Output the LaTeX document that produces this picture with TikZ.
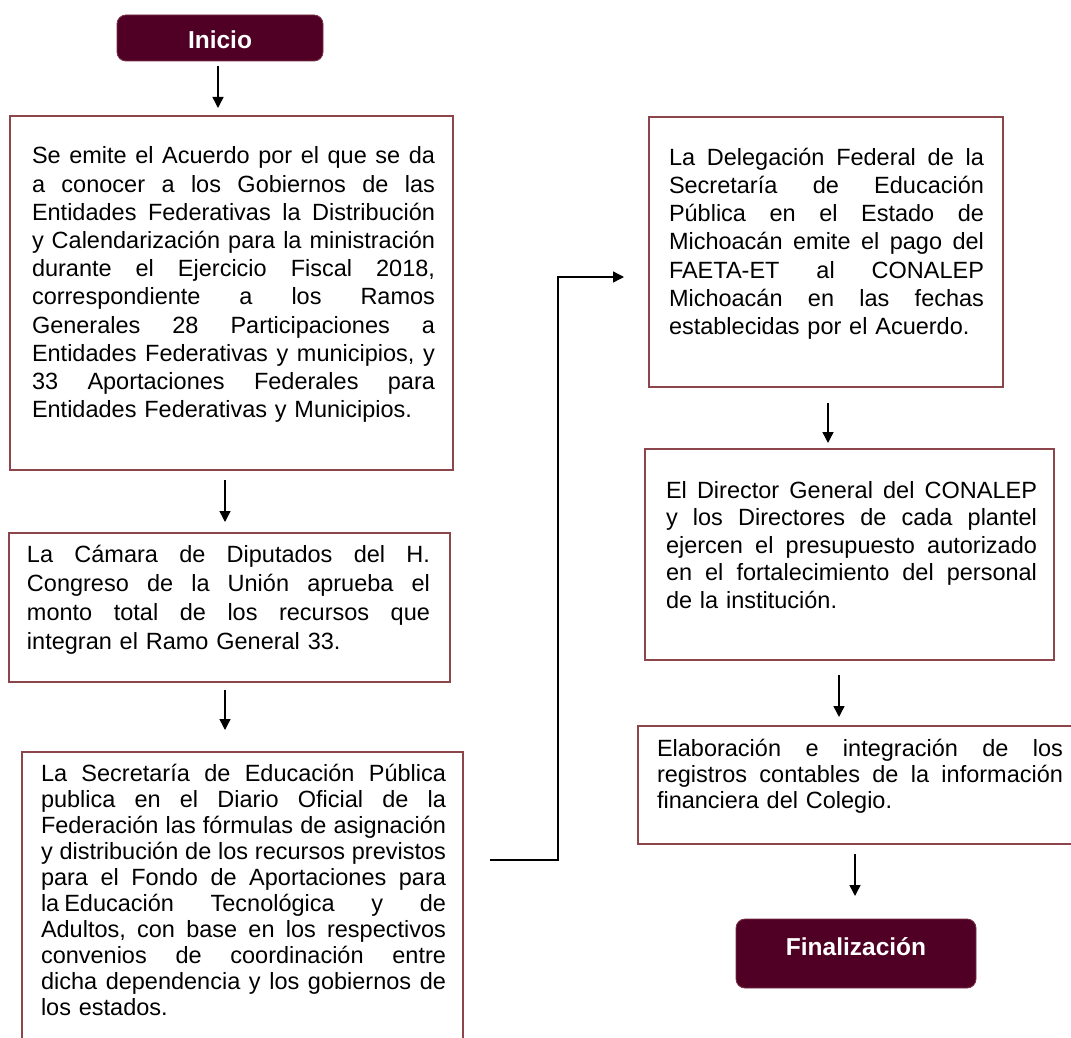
\documentclass[tikz,border=0pt]{standalone}
\usepackage{fontspec}
\setmainfont{Liberation Sans}
\usetikzlibrary{arrows.meta,calc}
\definecolor{termfill}{RGB}{80,0,36}
\definecolor{termedge}{RGB}{120,50,70}
\definecolor{boxline}{RGB}{140,70,75}
\newlength{\jw}
\newcommand{\jl}[1]{\makebox[\jw][s]{\spaceskip=0pt\xspaceskip=0pt #1}\\}
\frenchspacing
\begin{document}
\begin{tikzpicture}[x=1pt,y=-1pt,
  procbox/.style={draw=boxline,line width=1.8pt,fill=white,inner sep=0pt,outer sep=0pt,rectangle},
  termbox/.style={fill=termfill,draw=termedge,line width=0.8pt,rounded corners=9pt,inner sep=0pt,outer sep=0pt,
    text=white,font=\fontsize{24.5}{29}\selectfont\bfseries},
  txt/.style={inner sep=0pt,outer sep=0pt,anchor=base west,align=left},
  arr/.style={line width=1.4pt,-{Triangle[length=11pt,width=11pt]}}]
\useasboundingbox (0,0) rectangle (1071,1038);
\fill[white] (0,0) rectangle (1071,1038);

% terminals
\node[termbox,minimum width=206pt,minimum height=46pt,text height=20.6pt,text depth=0pt] (inicio) at (220,38) {Inicio};
\node[termbox,minimum width=240pt,minimum height=69pt,text height=18pt,text depth=15pt] (fin) at (856,953.5) {Finalización};

% process boxes
\node[procbox,minimum width=443pt,minimum height=354pt] (b1) at (231.5,293) {};
\node[procbox,minimum width=441pt,minimum height=149pt] (b2) at (229.5,607.5) {};
\node[procbox,minimum width=441pt,minimum height=308pt] (b3) at (242.5,906) {};
\node[procbox,minimum width=354pt,minimum height=270pt] (b4) at (826,252) {};
\node[procbox,minimum width=409pt,minimum height=211pt] (b5) at (849.5,554.5) {};
\node[procbox,minimum width=447pt,minimum height=118pt] (b6) at (861.5,785) {};

% texts
\node[txt,text width=403pt,font=\fontsize{23.5}{28.2}\selectfont] (t1) at (32,164) {\setlength{\jw}{403pt}%
\jl{Se emite el Acuerdo por el que se da}
\jl{a conocer a los Gobiernos de las}
\jl{Entidades Federativas la Distribución}
\jl{y Calendarización para la ministración}
\jl{durante el Ejercicio Fiscal 2018,}
\jl{correspondiente a los Ramos}
\jl{Generales 28 Participaciones a}
\jl{Entidades Federativas y municipios, y}
\jl{33 Aportaciones Federales para}
Entidades Federativas y Municipios.};

\node[txt,text width=403pt,font=\fontsize{23.5}{29.1}\selectfont] (t2) at (27,562.5) {\setlength{\jw}{403pt}%
\jl{La Cámara de Diputados del H.}
\jl{Congreso de la Unión aprueba el}
\jl{monto total de los recursos que}
integran el Ramo General 33.};

\node[txt,text width=405pt,font=\fontsize{23.5}{26.1}\selectfont] (t3) at (41,781) {\setlength{\jw}{405pt}%
\jl{La Secretaría de Educación Pública}
\jl{publica en el Diario Oficial de la}
\jl{Federación las fórmulas de asignación}
\jl{y distribución de los recursos previstos}
\jl{para el Fondo de Aportaciones para}
\jl{la\hspace{5pt}Educación Tecnológica y de}
\jl{Adultos, con base en los respectivos}
\jl{convenios de coordinación entre}
\jl{dicha dependencia y los gobiernos de}
los estados.};

\node[txt,text width=315pt,font=\fontsize{23.5}{28.3}\selectfont] (t4) at (669,165) {\setlength{\jw}{315pt}%
\jl{La Delegación Federal de la}
\jl{Secretaría de Educación}
\jl{Pública en el Estado de}
\jl{Michoacán emite el pago del}
\jl{FAETA-ET al CONALEP}
\jl{Michoacán en las fechas}
establecidas por el Acuerdo.};

\node[txt,text width=371pt,font=\fontsize{23.5}{27.5}\selectfont] (t5) at (666,498) {\setlength{\jw}{371pt}%
\jl{El Director General del CONALEP}
\jl{y los Directores de cada plantel}
\jl{ejercen el presupuesto autorizado}
\jl{en el fortalecimiento del personal}
de la institución.};

\node[txt,text width=406pt,font=\fontsize{23.5}{26}\selectfont] (t6) at (657,756) {\setlength{\jw}{406pt}%
\jl{Elaboración e integración de los}
\jl{registros contables de la información}
financiera del Colegio.};

% connectors
\draw[arr] ($(inicio.south)+(-2,5)$) -- ($(inicio.south |- b1.north)+(-2,-8)$);
\draw[arr] ($(b1.south)+(-6.5,10)$) -- ($(b1.south |- b2.north)+(-6.5,-11)$);
\draw[arr] ($(b2.south)+(-4.5,8)$) -- ($(b2.south |- b3.north)+(-4.5,-22)$);
\draw[arr] ($(b3.east)+(27,-46)$) -- ++(68,0) |- ($(b4.west)+(-25,25)$);
\draw[arr] ($(b4.south)+(2,16)$) -- ($(b4.south |- b5.north)+(2,-6)$);
\draw[arr] ($(b5.south)+(-10.5,15)$) -- ($(b5.south |- b6.north)+(-10.5,-9)$);
\draw[arr] ($(b6.south)+(-6.5,10)$) -- ($(b6.south |- fin.north)+(-6.5,-23)$);
\end{tikzpicture}
\end{document}
